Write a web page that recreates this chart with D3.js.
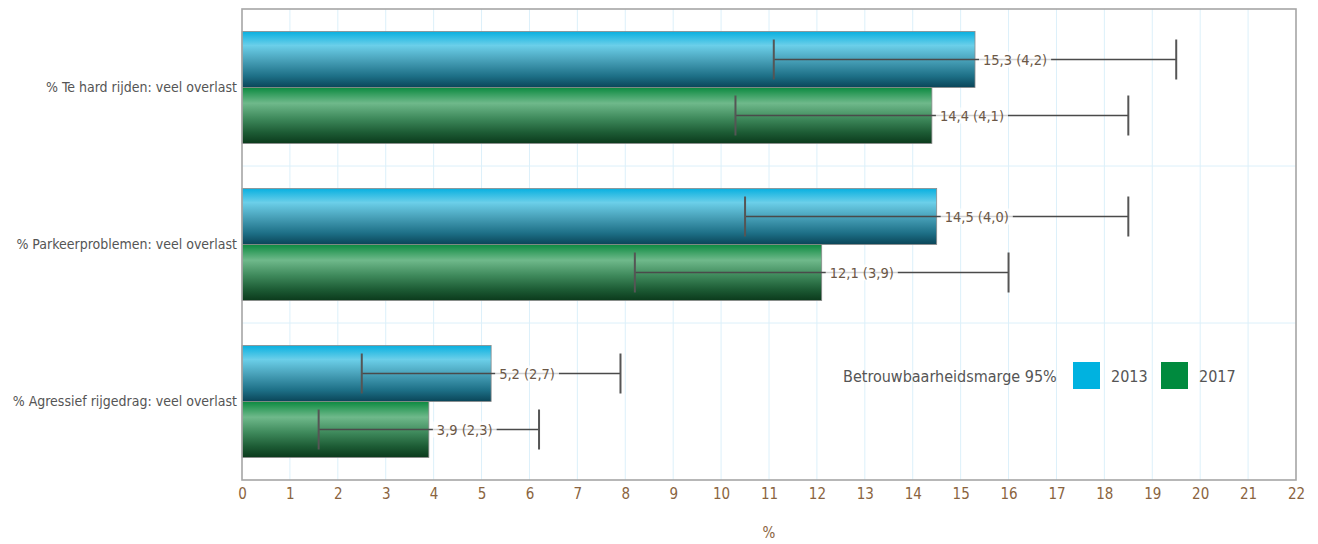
<!DOCTYPE html>
<html><head><meta charset="utf-8">
<script src="https://cdn.jsdelivr.net/npm/d3@7"></script>
<style>
html,body{margin:0;padding:0;background:#fff;}
svg text{font-family:"DejaVu Sans Condensed","Liberation Sans Narrow",sans-serif;}
</style></head>
<body><svg id="chart" width="1318" height="544"></svg>
<script>
const categories = ["% Te hard rijden: veel overlast", "% Parkeerproblemen: veel overlast", "% Agressief rijgedrag: veel overlast"];
const seriesNames = ["2013", "2017"];
const values2013 = [15.3, 14.5, 5.2];
const margins2013 = [4.2, 4.0, 2.7];
const values2017 = [14.4, 12.1, 3.9];
const margins2017 = [4.1, 3.9, 2.3];
const xTicks = d3.range(0, 23);
const legendTitle = "Betrouwbaarheidsmarge 95%";
const axisTitle = "%";

const FONT = '"DejaVu Sans Condensed","Liberation Sans Narrow",sans-serif';
const fmt = v => String(v.toFixed(1)).replace(".", ",");
const svg = d3.select("#chart");
const M = {left: 242, right: 1296, top: 9, bottom: 480};
const x = d3.scaleLinear().domain([0, 22]).range([M.left, M.right]);
const y = d3.scaleBand().domain(categories).range([M.top, M.bottom]);
const yInner = d3.scaleBand().domain(seriesNames).range([0, 112]);
const innerOffset = (y.bandwidth() - 112) / 2;

const defs = svg.append("defs");
function grad(id, stops){
  const g = defs.append("linearGradient").attr("id", id).attr("x1",0).attr("x2",0).attr("y1",0).attr("y2",1);
  stops.forEach(s => g.append("stop").attr("offset", s[0]).attr("stop-color", s[1]));
}
grad("gBlue", [[0,"#08b0e0"],[0.25,"#6bcfe9"],[0.5,"#4aa3bb"],[0.8,"#1d6f86"],[1,"#0a4558"]]);
grad("gGreen", [[0,"#0c8a40"],[0.28,"#6fb98b"],[0.55,"#3f8a5c"],[0.8,"#1d5c35"],[1,"#0b3a1c"]]);

// grid
svg.append("g").selectAll("line").data(xTicks.slice(1, -1)).join("line")
  .attr("x1", d => x(d)).attr("x2", d => x(d)).attr("y1", M.top).attr("y2", M.bottom)
  .attr("stroke", "#dcf0fa").attr("stroke-width", 1);
svg.append("g").selectAll("line").data(categories.slice(1)).join("line")
  .attr("x1", M.left).attr("x2", M.right).attr("y1", d => y(d)).attr("y2", d => y(d))
  .attr("stroke", "#dcf0fa").attr("stroke-width", 1);

const series = [
  {name: "2013", values: values2013, margins: margins2013, fill: "url(#gBlue)"},
  {name: "2017", values: values2017, margins: margins2017, fill: "url(#gGreen)"}
];

const data = [];
series.forEach(s => categories.forEach((c, i) => data.push({cat: c, s: s.name, v: s.values[i], m: s.margins[i], fill: s.fill})));

// bars
svg.append("g").selectAll("rect").data(data).join("rect")
  .attr("x", x(0))
  .attr("y", d => y(d.cat) + innerOffset + yInner(d.s))
  .attr("width", d => x(d.v) - x(0))
  .attr("height", yInner.bandwidth())
  .attr("fill", d => d.fill)
  .attr("stroke", "#8a8a8a").attr("stroke-width", 0.8);

// error bars
const eb = svg.append("g");
data.forEach(d => {
  const cy = y(d.cat) + innerOffset + yInner(d.s) + yInner.bandwidth() / 2;
  eb.append("line").attr("x1", x(d.v - d.m)).attr("x2", x(d.v + d.m)).attr("y1", cy).attr("y2", cy)
    .attr("stroke", "#4a4a4a").attr("stroke-width", 1.6);
  [d.v - d.m, d.v + d.m].forEach(e => eb.append("line").attr("x1", x(e)).attr("x2", x(e))
    .attr("y1", cy - 20).attr("y2", cy + 20).attr("stroke", "#555").attr("stroke-width", 2));
});

// value labels
const lg = svg.append("g");
data.forEach(d => {
  const cy = y(d.cat) + innerOffset + yInner(d.s) + yInner.bandwidth() / 2;
  const t = lg.append("text").attr("x", x(d.v) + 8).attr("y", cy + 5)
    .attr("font-size", 14.5).attr("fill", "#6b5746").text(fmt(d.v) + " (" + fmt(d.m) + ")");
  const bb = t.node().getBBox();
  lg.insert("rect", "text").attr("x", bb.x - 4).attr("y", cy - 8).attr("width", bb.width + 8).attr("height", 16)
    .attr("fill", "#ffffff").attr("opacity", 0.75);
});

// plot border
svg.append("rect").attr("x", M.left).attr("y", M.top).attr("width", M.right - M.left).attr("height", M.bottom - M.top)
  .attr("fill", "none").attr("stroke", "#a6a6a6").attr("stroke-width", 1.6);

// x axis labels
const xa = svg.append("g").attr("transform", `translate(0,${M.bottom})`)
  .call(d3.axisBottom(x).tickValues(xTicks).tickSize(0).tickPadding(8).tickFormat(d3.format("d")));
xa.select(".domain").remove();
xa.selectAll("text").attr("font-size", 15).attr("fill", "#8a6440").style("font-family", FONT);

svg.append("text").attr("x", (M.left + M.right) / 2).attr("y", 538).attr("text-anchor", "middle")
  .attr("font-size", 15).attr("fill", "#8a6440").text(axisTitle);

// y labels
const ya = svg.append("g").attr("transform", `translate(${M.left},0)`)
  .call(d3.axisLeft(y).tickSize(0).tickPadding(5));
ya.select(".domain").remove();
ya.selectAll("text").attr("font-size", 14).attr("fill", "#555").style("font-family", FONT);

// legend
const leg = svg.append("g");
leg.append("text").attr("x", 843).attr("y", 382).attr("font-size", 16).attr("fill", "#555").text(legendTitle);
const legItems = [{name: seriesNames[0], color: "#00b2e0", x: 1073}, {name: seriesNames[1], color: "#008a3e", x: 1161}];
legItems.forEach(it => {
  leg.append("rect").attr("x", it.x).attr("y", 362).attr("width", 27).attr("height", 27).attr("fill", it.color);
  leg.append("text").attr("x", it.x + 38).attr("y", 382).attr("font-size", 16).attr("fill", "#555").text(it.name);
});
</script></body></html>
